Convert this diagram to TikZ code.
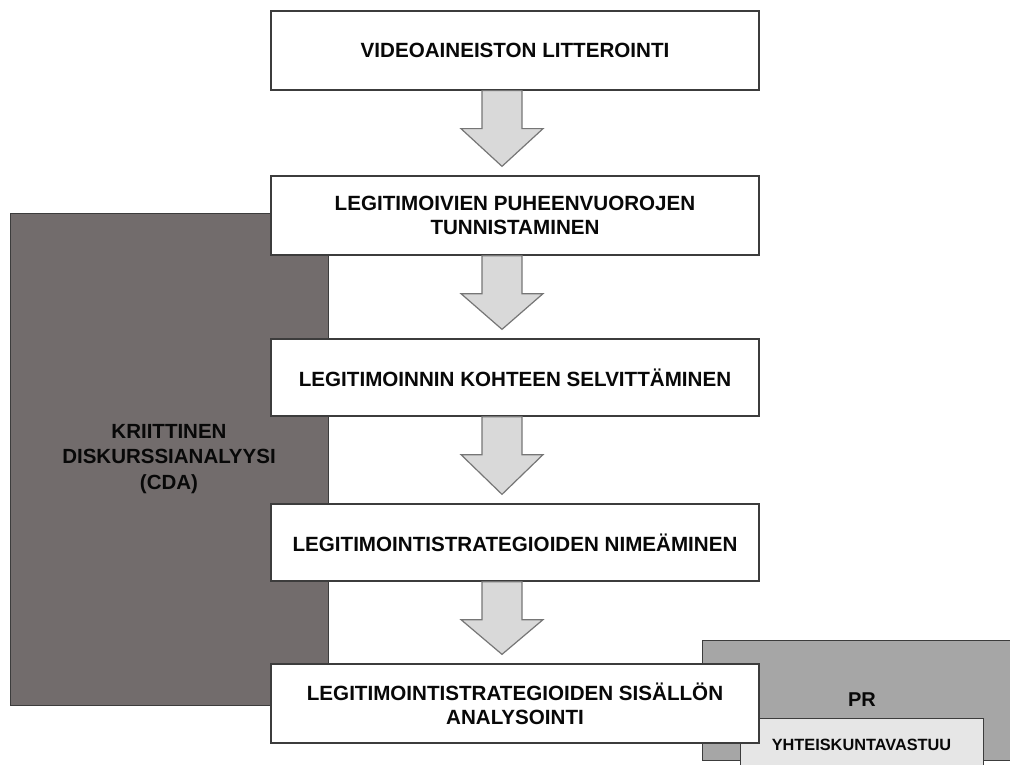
\documentclass[tikz,border=0pt]{standalone}
\usepackage{fontspec}
\setmainfont{Liberation Sans}
\usetikzlibrary{calc}
\definecolor{cdagray}{HTML}{726C6C}
\definecolor{prgray}{HTML}{A6A6A6}
\definecolor{yhtgray}{HTML}{E6E6E6}
\definecolor{arrowfill}{HTML}{D9D9D9}
\definecolor{arrowline}{HTML}{767676}
\definecolor{edgecol}{HTML}{3C3C3C}
\definecolor{textcol}{HTML}{080808}
\newcommand{\blockarrow}[2]{%
  \draw[blockarr] ($(#1.south)+(-33,0)$) -- ($(#1.south)+(7,0)$) -- ($(#1.south)+(7,38)$) -- ($(#1.south)+(28,38)$) -- ($(#2.north)+(-13,-9)$) -- ($(#1.south)+(-54,38)$) -- ($(#1.south)+(-33,38)$) -- cycle;}
\begin{document}
\begin{tikzpicture}[x=1pt,y=-1pt,
  stepbox/.style={draw=edgecol, line width=1.3pt, fill=white, minimum width=488pt, align=center, inner sep=0pt, text=textcol, font=\fontsize{20.6}{24}\selectfont\bfseries},
  cdabox/.style={draw=edgecol, line width=1pt, fill=cdagray, align=center, inner sep=0pt, text=textcol, font=\fontsize{20.5}{25.5}\selectfont\bfseries},
  prbox/.style={draw=edgecol, line width=1pt, fill=prgray, inner sep=0pt, text=textcol, font=\fontsize{20}{24}\selectfont\bfseries},
  yhtbox/.style={draw=edgecol, line width=1pt, fill=yhtgray, inner sep=0pt, text=textcol, font=\fontsize{16.3}{19}\selectfont\bfseries},
  blockarr/.style={draw=arrowline, line width=1.2pt, fill=arrowfill, line join=miter}]
\clip (0,0) rectangle (1010,765);
\fill[white] (0,0) rectangle (1010,765);
\node[cdabox, minimum width=318pt, minimum height=492pt] (cda) at (169,459) {KRIITTINEN\\DISKURSSIANALYYSI\\(CDA)};
\node[prbox, minimum width=320pt, minimum height=120pt] (pr) at (862,700) {PR};
\node[yhtbox, minimum width=243pt, minimum height=54pt] (yht) at (861.5,745) {YHTEISKUNTAVASTUU};
\node[stepbox, minimum height=79pt] (b1) at (515,50.5) {VIDEOAINEISTON LITTEROINTI};
\node[stepbox, minimum height=79pt] (b2) at (515,215.5) {LEGITIMOIVIEN PUHEENVUOROJEN\\TUNNISTAMINEN};
\node[stepbox, minimum height=77pt] (b3) at (515,377.5) {LEGITIMOINNIN KOHTEEN SELVITTÄMINEN};
\node[stepbox, minimum height=77pt] (b4) at (515,542.5) {LEGITIMOINTISTRATEGIOIDEN NIMEÄMINEN};
\node[stepbox, minimum height=79pt] (b5) at (515,703.5) {LEGITIMOINTISTRATEGIOIDEN SISÄLLÖN\\ANALYSOINTI};
\blockarrow{b1}{b2}
\blockarrow{b2}{b3}
\blockarrow{b3}{b4}
\blockarrow{b4}{b5}
\end{tikzpicture}
\end{document}
